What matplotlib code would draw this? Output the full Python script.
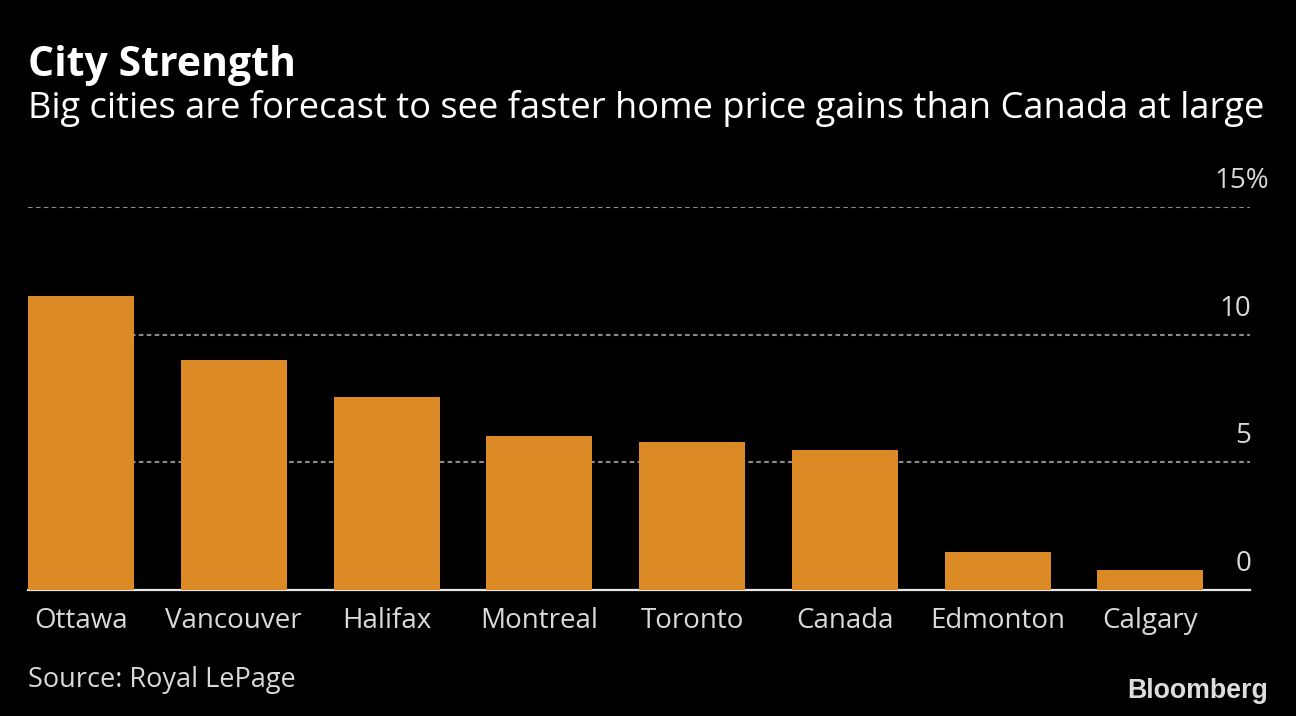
import matplotlib
matplotlib.use("Agg")
import matplotlib.pyplot as plt
from matplotlib.transforms import ScaledTranslation

cities = ["Ottawa", "Vancouver", "Halifax", "Montreal", "Toronto", "Canada", "Edmonton", "Calgary"]
gains = [11.5, 9.0, 7.55, 6.05, 5.8, 5.5, 1.5, 0.8]
y_ticks = [0, 5, 10, 15]
y_labels = ["0", "5", "10", "15%"]
title = "City Strength"
subtitle = "Big cities are forecast to see faster home price gains than Canada at large"
source = "Source: Royal LePage"

W, H = 1296, 716
plt.rcParams["font.family"] = ["Open Sans", "DejaVu Sans"]
fig = plt.figure(figsize=(W / 100, H / 100), dpi=100, facecolor="black")
ax = fig.add_axes([28 / W, 1 - 590 / H, (1250 - 28) / W, (590 - 207) / H], facecolor="black")

ax.bar(range(len(cities)), gains, width=0.694, color="#DB8A25", zorder=3)
ax.set_xlim(-0.347, 7.652)
ax.set_ylim(0, 15)

ax.yaxis.tick_right()
ax.set_yticks(y_ticks, y_labels)
ax.set_xticks(range(len(cities)), cities)
ax.tick_params(axis="x", length=0, pad=12, labelsize=20, labelcolor="#D9D9D9")
ax.tick_params(axis="y", length=0, pad=1, labelsize=20, labelcolor="#D9D9D9")
for tl, lab in zip(ax.get_yticklabels(), y_labels):
    tl.set_ha("right")
    tl.set_va("bottom")
    dx = 18 if lab.endswith("%") else 0
    tl.set_transform(tl.get_transform() + ScaledTranslation(dx / 100, 12 / 100, fig.dpi_scale_trans))

ax.grid(axis="y", color="#8C8C8C", linewidth=1.5, linestyle=(0, (2.2, 1.6)), zorder=1)
for s in ["top", "left", "right"]:
    ax.spines[s].set_visible(False)
ax.spines["bottom"].set_color("#E6E6E6")
ax.spines["bottom"].set_linewidth(1.6)
ax.spines["bottom"].set_zorder(2)
ax.get_ygridlines()[0].set_visible(False)

fig.text(28 / W, 1 - 66 / H, title, color="white", fontsize=29.5, fontweight="bold", va="center", ha="left")
fig.text(28 / W, 1 - 108.5 / H, subtitle, color="white", fontsize=26.1, va="center", ha="left")
fig.text(28 / W, 1 - 680 / H, source, color="#D9D9D9", fontsize=19.5, va="center", ha="left")
fig.text(1268 / W, 1 - 691 / H, "Bloomberg", color="#DDDDDD", fontsize=19.3, fontweight="bold",
         family=["Liberation Sans", "DejaVu Sans"], va="center", ha="right")

fig.savefig("out.png", dpi=100, facecolor="black")
